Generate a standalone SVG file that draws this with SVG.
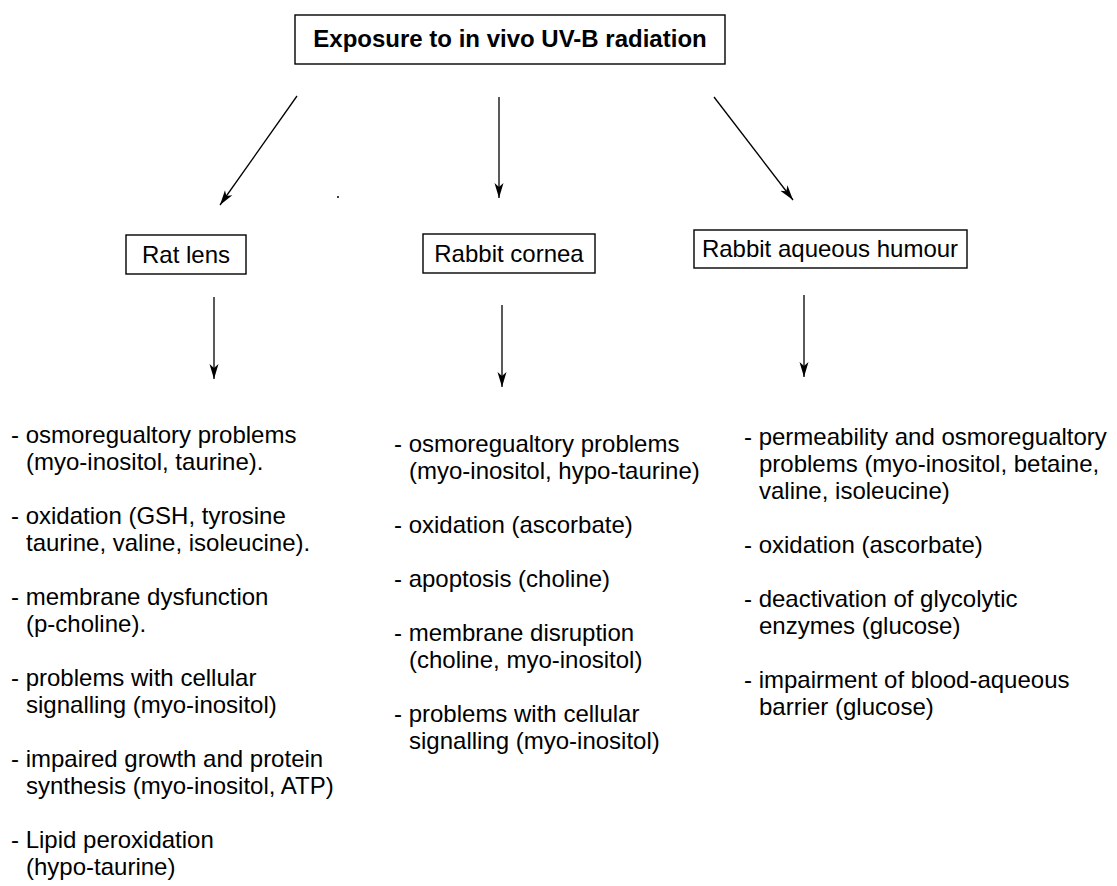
<svg xmlns="http://www.w3.org/2000/svg" width="1117" height="886" viewBox="0 0 1117 886">
<style>
text{font-family:"Liberation Sans",Arial,sans-serif;font-size:24px;fill:#000}
.title{font-weight:bold}
.box{fill:#fff;stroke:#000;stroke-width:1.4}
.arr{stroke:#000;stroke-width:1.3;fill:none;marker-end:url(#ah)}
</style>
<defs>
<marker id="ah" markerUnits="userSpaceOnUse" markerWidth="16" markerHeight="12" viewBox="-15 -6 16 12" refX="0" refY="0" orient="auto">
<path d="M0,0 L-15,-4.5 L-11,0 L-15,4.5 Z" fill="#000"/>
</marker>
</defs>
<rect width="1117" height="886" fill="#fff"/>
<g id="exposure">
<rect class="box" x="295" y="15" width="430" height="49"/>
<text class="title" x="510" y="47" text-anchor="middle">Exposure to in vivo UV-B radiation</text>
</g>
<g id="rat-lens">
<rect class="box" x="126" y="235" width="120" height="39"/>
<text x="186" y="263" text-anchor="middle">Rat lens</text>
</g>
<g id="rabbit-cornea">
<rect class="box" x="423" y="234" width="172" height="39"/>
<text x="509" y="262" text-anchor="middle">Rabbit cornea</text>
</g>
<g id="rabbit-aqueous">
<rect class="box" x="694" y="230" width="273" height="38"/>
<text x="830" y="257" text-anchor="middle">Rabbit aqueous humour</text>
</g>
<g id="connectors">
<line class="arr" x1="297" y1="96" x2="220" y2="205"/>
<line class="arr" x1="499" y1="97" x2="499" y2="198"/>
<line class="arr" x1="714" y1="97" x2="793" y2="200"/>
<line class="arr" x1="214" y1="297" x2="214" y2="379"/>
<line class="arr" x1="502" y1="305" x2="502" y2="387"/>
<line class="arr" x1="804" y1="295" x2="804" y2="377"/>
<circle cx="338" cy="197" r="1" fill="#000"/>
</g>
<g id="rat-lens-effects">
<text x="11" y="443">- osmoregualtory problems</text>
<text x="26" y="470">(myo-inositol, taurine).</text>
<text x="11" y="524">- oxidation (GSH, tyrosine</text>
<text x="26" y="551">taurine, valine, isoleucine).</text>
<text x="11" y="605">- membrane dysfunction</text>
<text x="26" y="632">(p-choline).</text>
<text x="11" y="686">- problems with cellular</text>
<text x="26" y="713">signalling (myo-inositol)</text>
<text x="11" y="767">- impaired growth and protein</text>
<text x="26" y="794">synthesis (myo-inositol, ATP)</text>
<text x="11" y="848">- Lipid peroxidation</text>
<text x="26" y="875">(hypo-taurine)</text>
</g>
<g id="rabbit-cornea-effects">
<text x="394" y="452">- osmoregualtory problems</text>
<text x="409" y="479">(myo-inositol, hypo-taurine)</text>
<text x="394" y="533">- oxidation (ascorbate)</text>
<text x="394" y="587">- apoptosis (choline)</text>
<text x="394" y="641">- membrane disruption</text>
<text x="409" y="668">(choline, myo-inositol)</text>
<text x="394" y="722">- problems with cellular</text>
<text x="409" y="749">signalling (myo-inositol)</text>
</g>
<g id="rabbit-aqueous-effects">
<text x="744" y="445">- permeability and osmoregualtory</text>
<text x="759" y="472">problems (myo-inositol, betaine,</text>
<text x="759" y="499">valine, isoleucine)</text>
<text x="744" y="553">- oxidation (ascorbate)</text>
<text x="744" y="607">- deactivation of glycolytic</text>
<text x="759" y="634">enzymes (glucose)</text>
<text x="744" y="688">- impairment of blood-aqueous</text>
<text x="759" y="715">barrier (glucose)</text>
</g>
</svg>
